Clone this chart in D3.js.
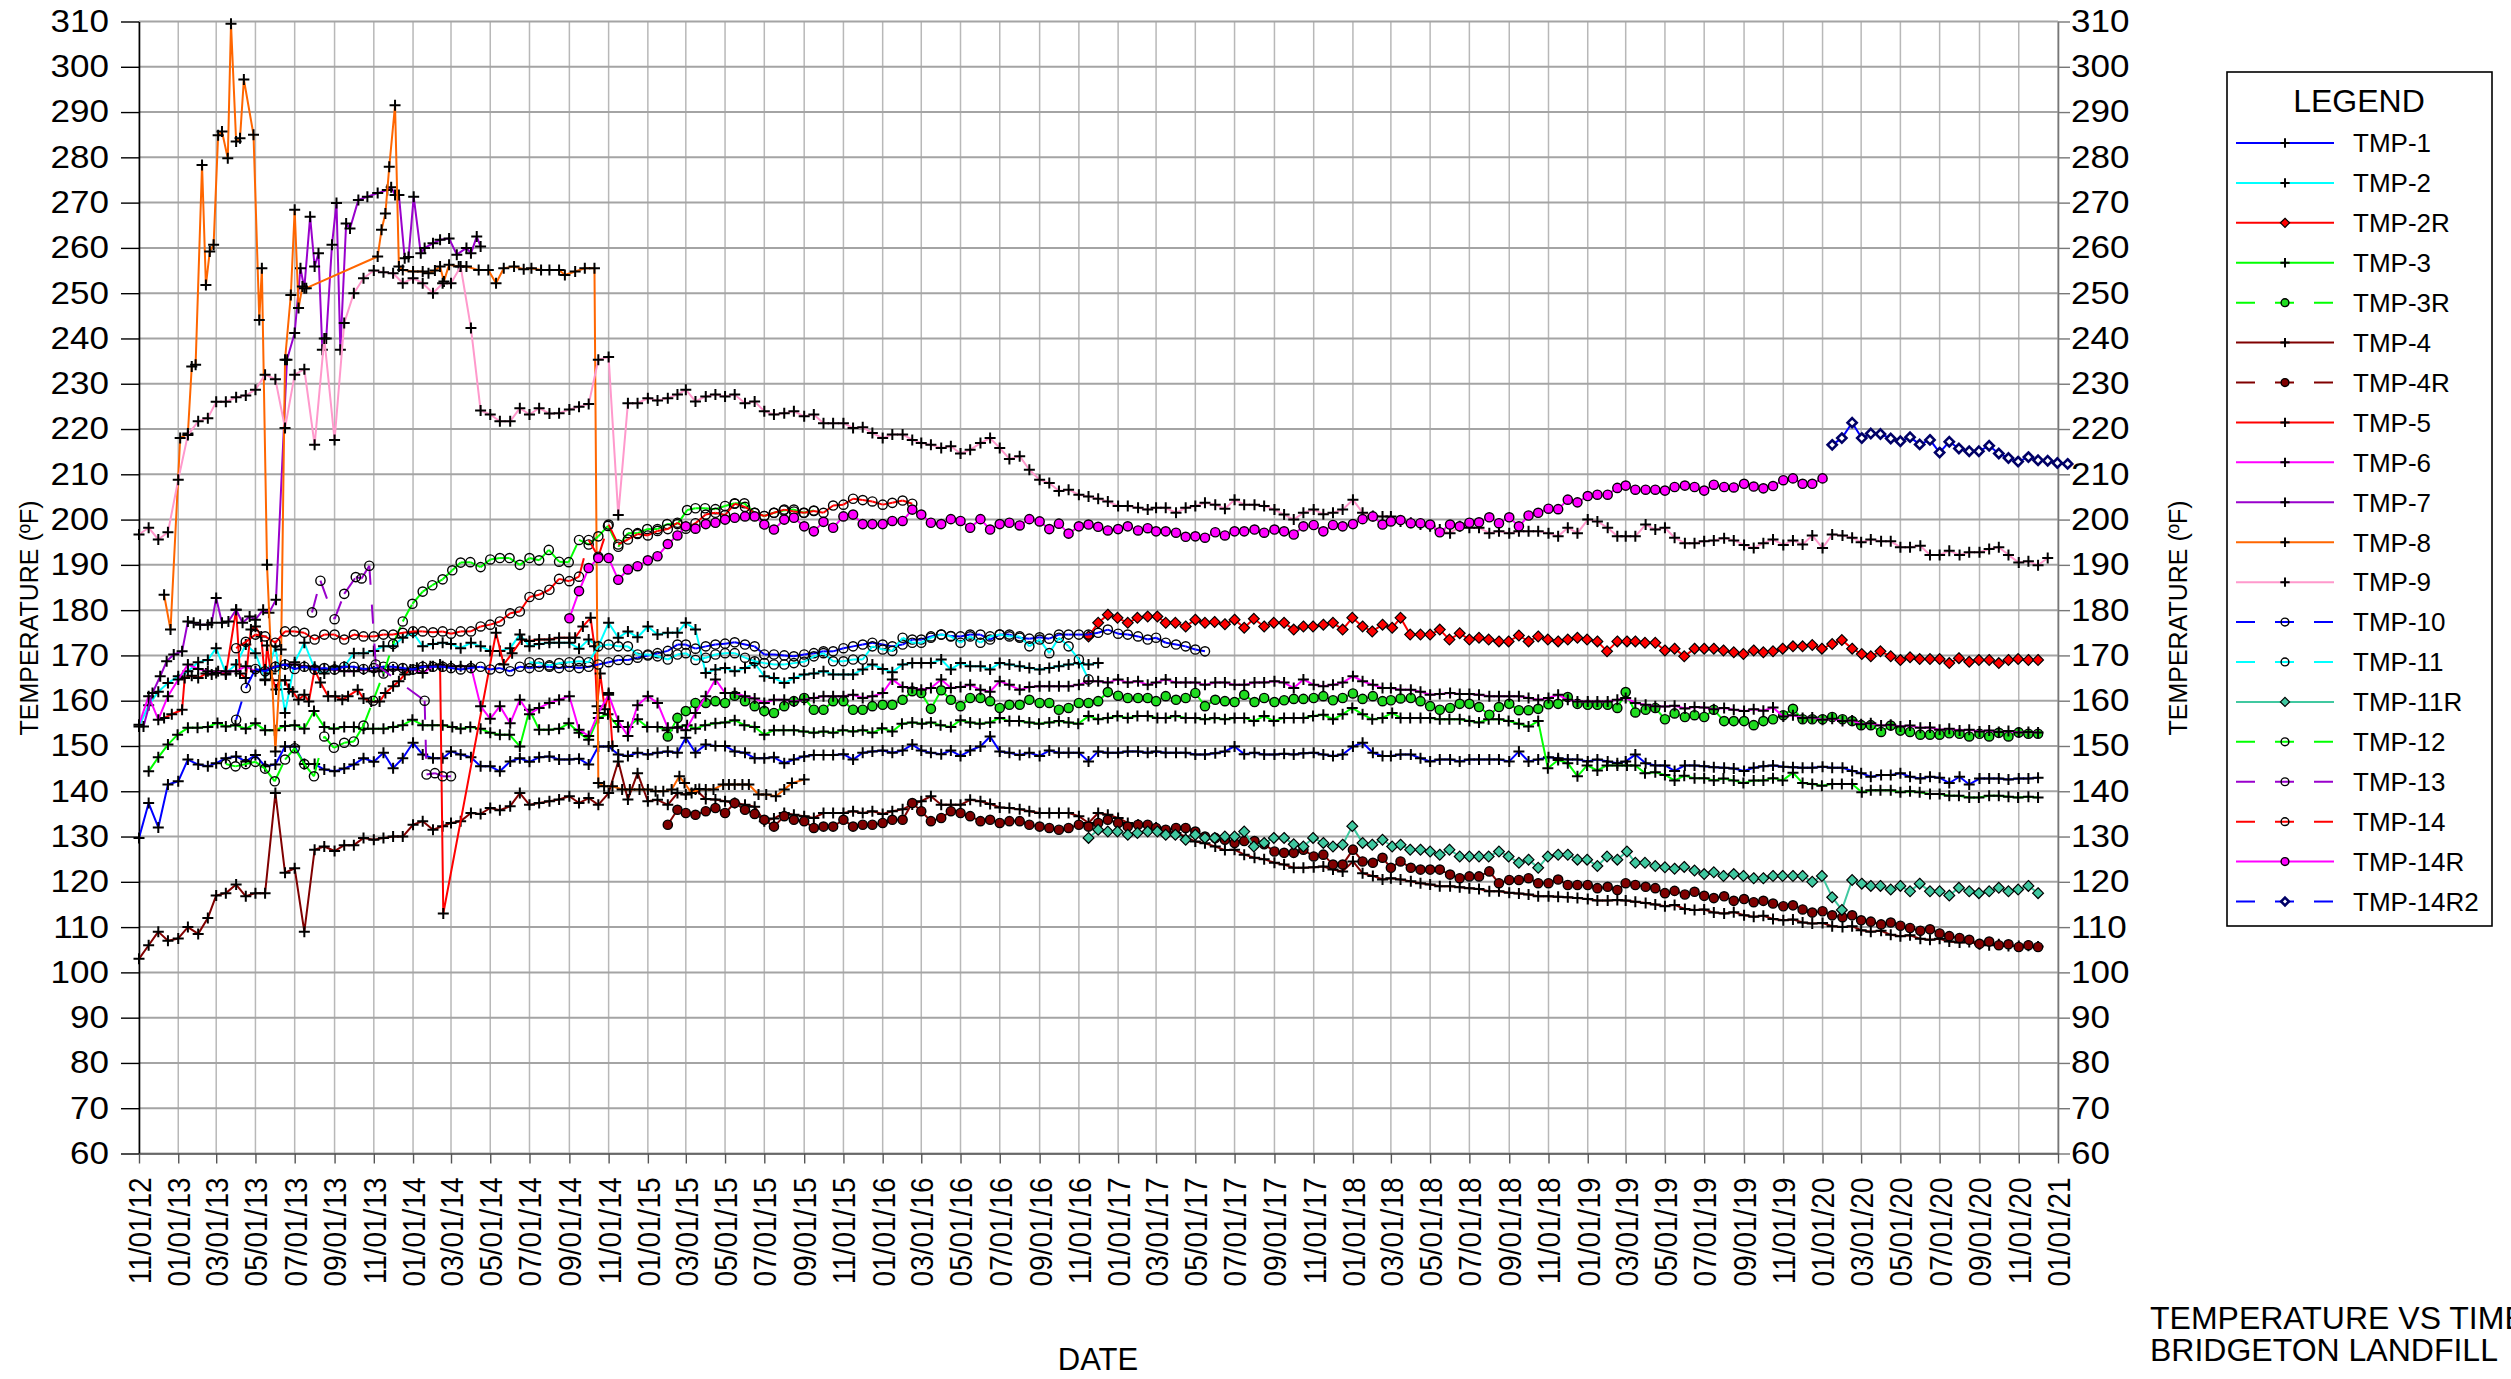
<!DOCTYPE html>
<html>
<head>
<meta charset="utf-8">
<script src="https://d3js.org/d3.v7.min.js"></script>
<style>
  body { margin: 0; background: #fff; }
  svg text { font-family: "Liberation Sans", Arial, sans-serif; fill: #000; }
</style>
</head>
<body>
<svg id="chart" width="2511" height="1379"></svg>
<script>
// ---- readings (deg F). "half-month" series: one value per half month from the start date
const tmp1Start = "2012-11-01";
const tmp1 = [129.7,137.4,132,141.5,142.2,147,145.9,145.5,146.2,147.3,147.7,146.6,148,145.5,145.9,149.9,149.9,146,146,144.8,144.4,145,145.9,147.3,146.5,148.5,145.1,147.3,150.7,148.1,147.3,147.3,148.8,148.1,147.5,145.5,145.5,144.4,146.6,147.3,146.5,147.5,147.7,147,147,147.2,145.9,149.9,149.9,148.1,147.8,148.5,148.1,148.5,148.8,148.5,151.8,148.5,150.3,150,150,148.8,148.5,147.3,147.3,147.5,146.2,147,147.7,148,148,148,148.2,147,148.5,148.8,149,148.5,149,150.3,149,148.5,148.2,149,147.8,149,149.9,152.1,148.8,148.5,148,148.5,147.8,149,148.5,148.5,148.5,146.6,148.8,148.5,148.5,148.8,148.8,148.5,148.8,148.5,148.5,148.5,148.1,148.1,148.4,148.8,149.9,148.2,148.5,148.1,148.1,148.3,148.1,148.4,148.5,148.1,147.8,148.1,149.9,150.7,148.5,147.8,147.8,148.1,148.1,147.3,146.6,147,147,146.6,147,147,147,147,146.6,148.8,146.6,147,147.5,147.3,147,147,146.6,147,146.6,146.2,146.6,148.1,146.2,145.7,145.7,144.5,145.7,145.7,145.5,145.3,145.2,145,144.5,145.2,145.5,145.7,145.4,145.3,145.2,145.2,145.4,145.2,145.2,144.5,144,143.2,143.6,143.6,144,143.2,142.8,143.2,143,141.8,143.2,141.5,142.8,142.8,142.8,142.6,142.8,142.8,143];

const tmp2Start = "2012-11-01";
const tmp2 = [154.3,159,162,163.9,165.4,166.5,168.5,169,171.6,166.1,168,172.4,170.5,164.7,172,157.3,168.5,172.8,167,166,167.5,167.5,170.5,170.5,171,172,172,173.9,175,172,172.5,172.8,172.5,171.6,172.8,172,171,171,171.6,174.6,172,172.5,172.8,172.8,172.8,171.5,173.5,172,177.2,173.9,175.3,174,176.4,174.6,175,175,177.2,175.7,166.1,166.9,167.2,166.5,167.2,168.3,165.4,165,163.9,165,165.8,166,166.5,165.8,165.8,165.8,166.9,168,167,166.3,168,168.3,168.3,168.3,169.1,166.9,168.3,167.6,167.6,166.9,168.3,168,167.6,167.2,166.9,167.2,167.6,168,168.3,168,168.3];

const tmp2RStart = "2016-11-16";
const tmp2R = [174.2,177.2,179,178.3,177.2,178.3,178.6,178.6,177.2,177.2,176.4,177.9,177.2,177.4,176.9,177.9,176.1,178.1,176.4,177.2,177.2,175.7,176.4,176.4,176.8,177.2,175.7,178.3,176.4,175.3,176.8,176.1,178.3,174.6,174.6,174.6,175.7,173.5,174.9,173.5,173.9,173.5,173.1,173.1,174.4,173.1,174.2,173.5,173.1,173.5,173.9,173.5,173.1,170.9,173.1,173.1,173.1,172.8,172.8,171.1,171.5,169.8,171.5,171.5,171.5,171.1,170.7,170.3,171.1,170.7,170.9,171.5,172,172,172.3,171.5,172.5,173.4,171.5,170.3,169.8,170.9,169.8,169,169.6,169.2,169.2,169.2,168.3,169.4,168.6,169,169,168.3,169,169.2,169,169];

const tmp3Start = "2012-11-16";
const tmp3 = [144.4,147.5,150.3,152.5,154,154,154.2,155.1,154.3,154.6,153.8,155,153.5,153.5,154.4,154.6,153.8,157.7,154.2,153.8,154.2,154.2,153.8,153.8,153.8,154.2,154.6,155.8,154.6,154.6,154.6,154.2,153.8,154.2,153.8,152.9,152.5,152.5,149.9,158,153.6,153.6,153.8,155,152.9,151.4,156.2,157,154.2,154.2,155.9,154.2,154.2,153.5,154.2,154.6,153.8,154.6,155,155.2,155.7,154.6,154.2,152.5,153.5,153.5,153.5,153.2,152.9,153.2,152.9,153.5,153.2,153.5,152.9,153.9,153.2,154.9,155.2,154.9,155.2,154.6,154.2,155.7,155.2,154.9,155.2,156.2,155.5,155.5,155.2,154.9,155.2,155.5,155.2,154.9,156.6,155.9,156.2,156.6,156.2,156.6,156.6,156.2,156.2,156.6,156.2,156.2,155.9,156.2,155.9,156.2,156.2,155.5,156.6,155.5,156.2,156.2,156.2,156.6,156.9,155.9,157,158.4,157,155.9,156.2,157.3,156.2,156.2,156.2,156.2,155.9,155.9,155.9,155.5,155.2,155.9,155.9,155.5,154.9,154.3,155.5,145.1,146.9,146.2,143.3,145.7,144.6,145.7,145.7,145.7,145.7,144,144.2,143.6,142.4,143.4,142.9,142.9,142.4,142.8,142.4,141.8,142.4,142.4,142.9,142.4,144.1,141.8,141.6,141.2,141.6,141.6,141.6,139.8,140.2,140.2,140.2,139.8,140,139.8,139.4,139.4,139,139,138.6,138.6,139,139,138.8,138.6,138.8,138.6];

const tmp3RStart = "2015-02-01";
const tmp3R = [152.1,156.2,157.7,159.5,159.5,159.9,159.5,161.1,159.9,158.8,157.7,157.3,158.8,159.9,160.6,158,158,159.9,159.9,158,158,158.8,159.1,159.1,160.2,162.1,161.7,158.2,162.3,160.2,158.8,160.6,160.6,159.9,158.4,159.1,159.1,160.2,159.5,159.5,158,158.4,159.5,159.5,159.9,161.9,161.1,160.6,160.6,160.6,159.9,161,160.2,160.6,161.7,158.8,160.2,159.9,159.7,161.3,159.7,160.6,159.7,160.1,160.4,160.4,160.6,161,160.1,160.6,161.6,160.4,161,159.9,160.1,160.5,160.6,159.9,158.8,158,158.4,159.3,159.3,158.6,156.9,158.6,159.3,157.9,157.9,158.2,159.2,159.3,160.8,159.3,159.1,159.1,159.1,158.4,161.9,157.4,158,158.4,155.9,157.2,156.4,156.8,156.4,158,155.5,155.5,155.5,154.6,155.5,155.9,156.8,158.2,155.9,155.9,155.9,156.4,155.9,155.5,154.6,154.6,153.1,154.5,153.4,153.1,152.5,152.5,152.5,152.8,152.7,152.1,152.7,152.1,152.9,152.1,153,152.7,152.7];

const tmp4Start = "2012-11-01";
const tmp4 = [103,106,109,107,107.5,110,108.5,112,117,117.5,119.4,116.8,117.5,117.5,139.6,122,123,109,127.1,127.8,126.8,128.1,128.1,129.7,129.3,129.7,130,130,132.6,133.4,131.5,132.3,133,133.4,135.2,135,136.3,135.8,136.7,139.6,137,137.4,137.8,138.2,138.9,137.4,138.5,137,139.6,146.6,138.2,144,137.8,138.1,137,139.6,139.3,140.4,138.3,138.2,137.8,137.4,137,136.6,133.4,134,135.2,134.8,134.5,134.1,135.2,135.2,135.2,135.6,135.2,135.6,135,135.6,136,137.1,137.8,138.9,137,137,137,138.1,137.8,137.2,136.4,136.3,136,135.6,135.2,135.2,135.2,135.2,134.5,133,135.2,134.8,134.1,133,132.6,132.3,132,131.3,130.8,130,128.9,128.5,127.8,127,127.1,126,125.3,125,124.2,123.8,123.1,123.1,123.2,123.4,122.7,122.3,124.5,121.9,121.3,120.5,120.8,120.5,120.1,119.7,119.4,119,119,118.8,118.6,118.4,117.9,117.9,117.6,117.4,117.2,116.8,116.8,116.7,116.6,116.4,116.2,115.9,115.9,116,115.9,115.6,115.3,115,114.6,114.9,114,113.8,113.9,113.2,113,113.3,112.6,112.3,112.5,111.8,111.5,111.7,111,110.8,110.9,110.2,110,110.2,109.3,109,109.2,108.3,108,108.2,107.4,107.2,107.4,106.8,106.6,106.7,106.2,106,106.2,105.8,105.8,105.9,105.7];

const tmp4RStart = "2015-02-01";
const tmp4R = [132.6,135.9,135.2,134.8,135.6,136.3,135.2,137.4,135.9,135,133.7,132.2,134.5,133.7,133.4,131.9,132.2,132.2,133.7,132.2,132.6,132.6,133,133.7,133.7,137.4,135.6,133.4,134.1,135.6,135.2,134.5,133.4,133.7,133,133.4,133.4,132.6,132.2,131.9,131.5,131.9,132.6,132.2,133,133.7,133,132.2,132.6,132.6,131.9,131.5,131.9,131.9,131.1,130,129.7,129.3,128.6,129,129,128.3,126.7,126.4,126.4,127.1,125.6,126,123.8,123.8,127.1,124.5,124.2,125.3,123.1,124.5,123.1,122.7,122.7,122.7,121.6,120.8,121.2,121.2,122.3,119.7,120.4,120.4,120.8,119.7,119.7,120.5,119.3,119.3,119.3,118.6,118.9,118.2,119.7,119.3,118.9,118.6,117.5,118,117.2,117.8,116.9,116.4,116.8,115.8,116.2,115.5,115.8,115.2,114.6,114.8,113.9,113.2,113.5,112.6,112.2,112.6,111.5,111.2,110.6,111,110.3,109.8,109.2,109.5,108.6,108,107.6,107.2,106.3,106.8,106,106.2,105.6,106,105.6];

// irregular readings: [date, value]
const tmp5 = [["2012-12-10",156.2],["2012-12-22",157],["2013-01-07",158],["2013-01-11",165],["2013-01-22",165.5],["2013-02-01",165],["2013-02-13",166],["2013-02-22",165.8],["2013-03-04",166.5],["2013-03-16",165.8],["2013-04-01",180.1],["2013-04-07",166],["2013-04-16",165],["2013-04-24",175.7],["2013-05-01",176.4],["2013-05-10",174.2],["2013-05-16",164.5],["2013-05-19",172.2],["2013-05-25",166],["2013-06-02",162.5],["2013-06-07",164.5],["2013-06-16",164.5],["2013-06-22",162.6],["2013-06-28",162],["2013-07-07",160.2],["2013-07-16",161.3],["2013-07-23",159.8],["2013-08-01",166.9],["2013-08-10",164],["2013-08-22",161],["2013-09-02",161],["2013-09-13",160.2],["2013-09-22",161],["2013-10-07",162.4],["2013-10-16",160.5],["2013-10-28",159.8],["2013-11-10",159.8],["2013-11-19",161.7],["2013-12-01",163.2],["2013-12-10",164.3],["2013-12-19",165.8],["2013-12-28",166.9],["2014-01-07",167.3],["2014-01-16",167.6],["2014-01-28",167.6],["2014-02-12",168],["2014-02-17",113],["2014-05-10",175],["2014-05-22",168],["2014-06-04",170.5],["2014-06-19",173.5],["2014-07-01",173.2],["2014-07-16",173.5],["2014-08-01",173.5],["2014-08-16",173.9],["2014-09-01",173.9],["2014-09-10",173.9],["2014-09-22",176.4],["2014-10-04",178.3],["2014-10-10",172],["2014-10-14",158.8],["2014-10-19",166],["2014-10-26",158.1],["2014-11-01",161.7],["2014-11-07",150]];

const tmp6Start = "2012-11-01";
const tmp6 = [154.7,161,155.8,161,164.7,168,167,166.5,166.1,166.5,166.5,167.6,166.5,166.9,167.5,168,168,167.6,167.5,166.9,166.9,166.5,166.5,166.9,166.5,166.5,166.9,166.9,166.9,166.1,167.6,167.6,167.6,167.6,167.6,158.8,156,158.8,155,160.2,157,158.4,159.5,160.2,161,153.6,152.2,157.3,161.3,155.5,152.2,159,161,159.5,154,154,153.5,157.3,161,164.7,161.7,161.7,161,160.5,159.5,160.2,160.2,159.8,160.2,160.6,161,161,161,161.3,160.6,161,161.7,164.7,163,162.8,162.4,162.8,164.7,162.8,163,163.5,162.4,162,164.3,163.5,162.4,163,163.2,163.2,163.2,163.2,163.5,164.3,164.3,164,164.7,164,164.3,163.5,164,164.7,164,164,164,163.5,164,164,163.5,163.5,164,164,164.3,164,162.8,164.7,163.5,163.2,163.5,164,165.4,164.3,163.5,162.8,162.8,162.4,162.4,162,161.3,161.5,161.7,161.5,161.5,161.3,161,161,161,161,160.6,160.2,160.6,161.3,160.2,159.8,159.8,159.8,159.8,160.2,160.6,159.5,159.1,158.8,158.7,158.9,158.3,158.6,158.5,158.1,158.4,158,157.7,158.1,157.8,158.5,156.5,156.8,156.2,156.3,155.8,156,155.5,155.6,154.8,155,154.5,154.7,154.3,154.5,154,154.1,153.6,153.8,153.4,153.6,153.2,153.4,153.1,153.3,153,153.1,153];

const tmp7 = [["2012-11-08",154.3],["2012-11-22",161.7],["2012-12-04",165.4],["2012-12-14",168.7],["2012-12-25",170.2],["2013-01-07",170.9],["2013-01-16",177.5],["2013-01-25",177.2],["2013-02-04",176.8],["2013-02-16",176.8],["2013-02-22",177.2],["2013-03-01",182.7],["2013-03-10",177.2],["2013-03-20",177.5],["2013-04-01",180.1],["2013-04-11",177.2],["2013-04-22",178.6],["2013-05-01",177.9],["2013-05-13",180.1],["2013-05-22",179.4],["2013-06-02",182.3],["2013-06-19",235.3],["2013-07-01",241.2],["2013-07-10",255.5],["2013-07-16",251.1],["2013-07-25",266.9],["2013-08-01",255.9],["2013-08-07",258.8],["2013-08-13",237.5],["2013-08-19",240],["2013-08-28",260.7],["2013-09-04",269.9],["2013-09-10",237.5],["2013-09-19",265.4],["2013-09-25",264.3],["2013-10-08",270.6],["2013-10-22",271.3],["2013-11-07",272.1],["2013-11-22",272.8],["2013-11-28",273.4],["2013-12-04",271.7],["2013-12-10",271.7],["2013-12-19",257.7],["2013-12-25",258],["2014-01-02",271.3],["2014-01-13",258.8],["2014-01-19",260],["2014-02-01",261],["2014-02-12",261.8],["2014-02-26",262.1],["2014-03-10",258.5],["2014-03-25",260],["2014-04-01",258.8],["2014-04-10",262.5],["2014-04-16",260.3]];

const tmp8 = [["2012-12-10",183.4],["2012-12-20",175.7],["2013-01-04",218],["2013-01-16",219],["2013-01-22",233.8],["2013-01-28",234.2],["2013-02-07",278.3],["2013-02-13",251.8],["2013-02-19",259.2],["2013-02-25",260.7],["2013-03-04",284.9],["2013-03-10",285.7],["2013-03-19",279.8],["2013-03-24",309.5],["2013-04-01",283.5],["2013-04-07",284.2],["2013-04-13",297.2],["2013-04-28",285],["2013-05-07",244.1],["2013-05-11",255.5],["2013-05-19",190],["2013-06-01",148.8],["2013-06-10",171.3],["2013-06-16",235.3],["2013-06-25",249.6],["2013-07-01",268.4],["2013-07-07",246.7],["2013-07-13",251.5],["2013-07-19",251.1],["2013-11-07",258.1],["2013-11-13",264],["2013-11-19",267.6],["2013-11-25",277.9],["2013-12-04",291.5],["2013-12-10",255.9],["2013-12-16",255.1],["2014-01-01",254.8],["2014-01-16",254.8],["2014-01-25",254.4],["2014-02-04",255],["2014-02-12",255.9],["2014-02-18",252.6],["2014-02-26",256.3],["2014-03-13",255.9],["2014-03-25",255.9],["2014-04-13",255.1],["2014-04-28",255.1],["2014-05-10",252.2],["2014-05-22",255.5],["2014-06-07",255.9],["2014-06-22",255.3],["2014-07-04",255.5],["2014-07-19",255.1],["2014-08-01",255.1],["2014-08-16",255.1],["2014-08-25",254],["2014-09-10",254.8],["2014-09-25",255.5],["2014-10-10",255.5],["2014-10-16",141.8],["2014-10-25",141.1],["2014-11-07",141.1],["2014-11-22",140.4],["2014-12-04",140.4],["2014-12-19",140.4],["2015-01-01",140.4],["2015-01-13",140],["2015-01-25",140],["2015-02-07",140.4],["2015-02-19",143.3],["2015-02-27",141.8],["2015-03-10",139.6],["2015-03-22",140.5],["2015-04-01",140.4],["2015-04-13",140.4],["2015-04-28",141.5],["2015-05-07",141.5],["2015-05-16",141.5],["2015-05-28",141.5],["2015-06-07",141.5],["2015-06-22",139.3],["2015-07-04",139.3],["2015-07-19",138.9],["2015-08-01",140.4],["2015-08-13",141.8],["2015-09-01",142.6]];

const tmp9Start = "2012-11-01";
const tmp9 = [196.7,198.2,195.6,197.2,208.8,218.7,221.7,222.4,226,226,227,227.4,228.7,232,231,220.2,232,233.2,216.5,240,217.6,243.4,250,253.3,255,254.6,254.4,252.2,253.3,252.2,250,252.2,252.2,255.9,242.3,224.1,223.2,221.7,221.7,224.6,223.2,224.6,223.4,223.5,224.3,224.9,225.5,235.3,235.9,201,225.7,225.7,226.8,226.3,226.8,227.6,228.7,226.1,227.2,227.6,227.2,227.6,225.7,226.1,223.9,223.2,223.5,223.9,222.8,223.2,221.3,221.3,221.3,220.2,220.4,219.1,218,218.8,218.8,217.6,216.9,216.5,215.8,216.2,214.6,215.4,216.9,218,215.8,213.4,214,211,208.8,208.1,206.3,206.6,205.5,205.1,204.6,204,203,203,202.6,202.2,202.6,202.6,201.5,202.6,203,203.7,203.3,202.4,204.4,203.3,203.3,203,202.2,201.1,200,201.5,202.2,201.2,201.5,202.2,204.4,201.5,200.8,200.7,200.7,199.6,199.3,198.9,198.5,197.8,197,198.5,198.2,198.2,197,197.4,197,197.4,197.4,197.4,197,196.3,198.2,197,200,199.6,198.2,196.3,196.3,196.3,198.9,197.8,198.2,196,194.8,194.8,195.2,195.4,195.9,195.4,194.4,193.7,194.8,195.6,194.4,195.4,194.5,196.5,193.7,196.7,196.5,196,195,195.6,195.2,195.2,193.9,193.9,194.2,192.2,192.2,193.1,192.2,192.8,192.8,193.5,193.9,192.2,190.5,190.8,189.9,191.5];

const tmp10Start = "2013-04-01";
const tmp10 = [155.8,162.8,167,166.5,167.5,168,167,167.5,166.9,167.2,166.9,167.5,167.5,167,167.2,167.5,167.5,167.2,166.9,167.5,167.5,167.5,167.2,166.9,167.2,167.5,166.9,167.2,166.5,167.5,167.2,167.5,167.5,167.2,167.5,167.2,167.5,168,168.5,169,169,169.5,170,170.5,171,172.4,172.4,171.5,172,172.4,172.6,172.9,172.4,172,170.2,170.2,170,169.8,170.2,170.5,170.9,170.9,171.6,172,172.4,172.8,172.4,172,172.4,173.5,173.5,174.2,174.6,174.3,174.2,174.6,174.6,173.5,174.6,174.6,173.9,173.7,174,173.7,174.6,174.6,174.6,174.6,175,175.7,174.8,174.6,174.2,173.5,173.9,172.8,172.4,172,171.3,170.9];

const tmp11Start = "2014-07-01";
const tmp11 = [168.5,168.3,167.8,168.3,168.5,168.7,168.5,172,172.4,172,172,170.2,170.2,169.8,169.1,170.2,170.5,169,169.5,170.2,170.5,170.5,169.5,168.7,168.3,168,168,168.3,168.6,169.8,170.5,168.7,168.7,169.1,169.1,172,171.3,171,173.9,172.8,172.8,173.9,174.6,174.2,172.8,174.2,172.8,174.2,174.6,174.2,174.2,172,173.5,170.5,173.9,172,169.1,164.7];

const tmp11RStart = "2016-11-16";
const tmp11R = [129.7,131.5,131.1,131.1,130.4,130.8,131.1,131.1,130.4,130.4,129.3,130.4,129.7,129.7,130,130,131.1,127.8,128.6,129.7,129.7,128.3,127.8,129.7,128.6,127.8,128.2,132.3,128.6,128.2,129.3,127.8,128.2,127.1,127.1,126.7,126,127.1,125.6,125.6,125.6,125.6,126.7,125.6,124.2,124.9,123.1,125.6,126,126,124.9,124.9,123.5,125.6,124.9,126.7,124.2,124.2,123.5,123.2,122.9,123.3,122.5,121.7,122.1,121.3,121.7,121.3,120.8,120.8,121.3,121.3,121.3,121.3,120,121.3,116.6,113.8,120.4,119.6,119.1,119.1,118.3,119.1,117.9,119.6,117.9,117.9,117,118.7,117.9,117.5,117.9,118.7,117.9,118.3,119.1,117.5];

const tmp12Start = "2013-03-16";
const tmp12 = [146,145.5,146,146.5,145,142.2,147,149.5,146,143.3,152.1,149.6,150.7,151,154.5,160,166,172.5,177.5,181.4,184.1,185.5,186.8,188.8,190.5,190.6,189.5,191.2,191.5,191.5,190,191.5,191,193.3,190.7,190.6,195.5,194.5,196.3,198.6,194,197,197,197.9,197.9,199,199,202.1,202.5,202.5,202.3,203,203.6,203.6,201.5,200.8,201.5,202,202.2,201.5,202];

const tmp13 = [["2013-07-28",179.5],["2013-08-10",186.5],["2013-09-01",178],["2013-09-16",183.6],["2013-10-04",187.3],["2013-10-13",187],["2013-10-25",189.8],["2013-11-04",168],["2014-01-19",160],["2014-01-22",143.7],["2014-02-04",144],["2014-02-16",143.3],["2014-03-01",143.3]];

const tmp14Start = "2013-04-01";
const tmp14 = [171.6,173,174.6,174.2,172.8,175.3,175.3,175,173.5,174.6,174.6,173.5,174.6,174.2,174.2,174.6,174.6,175,175.3,175.3,175.1,175.3,174.8,175.3,175.3,176.4,176.8,177.5,179.3,179.7,182.9,183.4,184.5,186.9,186.4,187.4,195.5,191.8,198.9,194.5,195.6,196.8,196.5,197.5,197.9,199.3,198,199.2,201.1,201.5,201,203.5,202.8,201.5,200.8,201.5,202.2,201.8,201.5,201.9,201.5,203.1,203.3,204.6,204.3,204,203.3,203.7,204.2,203.5];

const tmp14RStart = "2014-09-01";
const tmp14R = [178.2,184.2,189.3,191.5,191.5,186.7,189,189.7,191,191.9,194.6,196.5,198.5,198,199,199.3,200,200.4,200.7,200.7,198.9,197.8,200,200.4,198.5,197.4,199.5,198.2,200.7,201.1,199,199,199,199.7,199.7,202.2,201.1,199.3,199,200.1,199.7,198.2,200.1,197.8,199,199.3,198.7,200.1,199.6,197.9,199.1,196.9,198.5,198.9,198.4,197.6,197.9,198.5,197.6,198.1,197.4,197.4,197.1,196.2,196.3,196,197.2,196.5,197.4,197.4,197.8,197.1,197.8,197.4,196.7,198.5,198.8,197.4,198.8,198.5,199,200.1,200.7,198.9,199.6,199.9,199.2,199.2,198.9,197.2,198.9,198.5,199.3,199.4,200.5,199.2,200.5,198.5,200.9,201.5,202.4,202.3,204.4,203.8,205.2,205.5,205.5,207,207.5,206.6,206.6,206.6,206.4,207.2,207.5,207.2,206.4,207.7,207.2,207.1,207.9,207.3,206.9,207.4,208.7,209.1,207.9,207.9,209.1];

const tmp14R2Start = "2020-01-16";
const tmp14R2 = [216.5,218,221.4,218,219,218.9,217.9,217.3,218.2,216.6,217.6,214.8,217.2,215.7,215.1,215.1,216.3,214.6,213.6,212.8,213.8,213.1,213,212.5,212.3];

const yTickValues = d3.range(60, 311, 10);
const dateDomain = ["2012-11-01", "2021-01-01"];

// ---- helpers
const parse = d3.timeParse("%Y-%m-%d");
function halfMonthly(start, vals) {
  const s = parse(start);
  return vals.map((v, i) => {
    const d = d3.timeMonth.offset(s, Math.floor(i / 2));
    if (i % 2) d.setDate(d.getDate() + 15);
    return { date: d, value: v };
  });
}
function dated(pts) { return pts.map(([d, v]) => ({ date: parse(d), value: v })); }

const series = [
  { name: "TMP-1",    color: "#0000ff", dash: false, marker: "plus",    data: halfMonthly(tmp1Start, tmp1) },
  { name: "TMP-2",    color: "#00ffff", dash: false, marker: "plus",    data: halfMonthly(tmp2Start, tmp2) },
  { name: "TMP-2R",   color: "#ff0000", dash: false, marker: "diamond", fill: "#ff0000", data: halfMonthly(tmp2RStart, tmp2R) },
  { name: "TMP-3",    color: "#00ff00", dash: false, marker: "plus",    data: halfMonthly(tmp3Start, tmp3) },
  { name: "TMP-3R",   color: "#00ff00", dash: true,  marker: "circle",  fill: "#1fdc1f", data: halfMonthly(tmp3RStart, tmp3R) },
  { name: "TMP-4",    color: "#800000", dash: false, marker: "plus",    data: halfMonthly(tmp4Start, tmp4) },
  { name: "TMP-4R",   color: "#800000", dash: true,  marker: "circle",  fill: "#800000", data: halfMonthly(tmp4RStart, tmp4R) },
  { name: "TMP-5",    color: "#ff0000", dash: false, marker: "plus",    data: dated(tmp5) },
  { name: "TMP-6",    color: "#ff00ff", dash: false, marker: "plus",    data: halfMonthly(tmp6Start, tmp6) },
  { name: "TMP-7",    color: "#9900cc", dash: false, marker: "plus",    data: dated(tmp7) },
  { name: "TMP-8",    color: "#ff6600", dash: false, marker: "plus",    data: dated(tmp8) },
  { name: "TMP-9",    color: "#ff99cc", dash: false, marker: "plus",    data: halfMonthly(tmp9Start, tmp9) },
  { name: "TMP-10",   color: "#0000ff", dash: true,  marker: "circle",  fill: "none", data: halfMonthly(tmp10Start, tmp10) },
  { name: "TMP-11",   color: "#00ffff", dash: true,  marker: "circle",  fill: "none", data: halfMonthly(tmp11Start, tmp11) },
  { name: "TMP-11R",  color: "#40c8a0", dash: false, marker: "diamond", fill: "#40c8a0", data: halfMonthly(tmp11RStart, tmp11R) },
  { name: "TMP-12",   color: "#00ff00", dash: true,  marker: "circle",  fill: "none", data: halfMonthly(tmp12Start, tmp12) },
  { name: "TMP-13",   color: "#9900cc", dash: true,  marker: "circle",  fill: "none", data: dated(tmp13) },
  { name: "TMP-14",   color: "#ff0000", dash: true,  marker: "circle",  fill: "none", data: halfMonthly(tmp14Start, tmp14) },
  { name: "TMP-14R",  color: "#ff00ff", dash: false, marker: "circle",  fill: "#ff00ff", data: halfMonthly(tmp14RStart, tmp14R) },
  { name: "TMP-14R2", color: "#0000ff", dash: true,  marker: "hdiamond", fill: "#ffffff", data: halfMonthly(tmp14R2Start, tmp14R2) }
];

// ---- layout
const svg = d3.select("#chart");
const plot = { left: 139, right: 2058, top: 21.5, bottom: 1153.5 };
const labelStretch = 1.13; // tick labels in the original are drawn a little wide

const x = d3.scaleTime().domain(dateDomain.map(parse)).range([plot.left, plot.right]);
const y = d3.scaleLinear().domain([60, 310]).range([plot.bottom, plot.top]);
const xTicks = x.ticks(d3.timeMonth.every(2));

// gridlines
svg.append("g").selectAll("line").data(xTicks).join("line")
  .attr("x1", d => x(d)).attr("x2", d => x(d))
  .attr("y1", plot.top).attr("y2", plot.bottom)
  .attr("stroke", "#b8b8b8").attr("stroke-width", 1.5);
svg.append("g").selectAll("line").data(yTickValues).join("line")
  .attr("x1", plot.left).attr("x2", plot.right)
  .attr("y1", d => y(d)).attr("y2", d => y(d))
  .attr("stroke", "#a4a4a4").attr("stroke-width", 2);

// axes
function styleAxis(g, color) {
  g.attr("font-family", null).attr("font-size", null);
  g.select(".domain").attr("stroke", color).attr("stroke-width", 1.6);
  g.selectAll(".tick line").attr("stroke", color).attr("stroke-width", 1.4);
}
svg.append("g").attr("transform", `translate(${plot.left},0)`)
  .call(d3.axisLeft(y).tickValues(yTickValues).tickSize(18).tickSizeOuter(0).tickPadding(12))
  .call(g => styleAxis(g, "#000"))
  .call(g => g.selectAll("text").attr("font-size", 31)
    .attr("transform", `scale(${labelStretch},1)`).attr("x", -30 / labelStretch));
svg.append("g").attr("transform", `translate(${plot.right},0)`)
  .call(d3.axisRight(y).tickValues(yTickValues).tickSize(12).tickSizeOuter(0).tickPadding(1))
  .call(g => styleAxis(g, "#777"))
  .call(g => g.selectAll("text").attr("font-size", 31)
    .attr("transform", `scale(${labelStretch},1)`).attr("x", 13 / labelStretch));
svg.append("g").attr("transform", `translate(0,${plot.bottom})`)
  .call(d3.axisBottom(x).tickValues(xTicks).tickFormat(d3.timeFormat("%m/%d/%y")).tickSize(10).tickSizeOuter(0))
  .call(g => styleAxis(g, "#555"))
  .call(g => g.selectAll("text")
    .attr("font-size", 28)
    .attr("transform", `scale(${labelStretch},1) rotate(-90)`)
    .attr("text-anchor", "end")
    .attr("x", -24).attr("y", 0).attr("dy", "0.36em"));

// axis titles
svg.append("text").attr("transform", "translate(38,618) rotate(-90)")
  .attr("text-anchor", "middle").attr("font-size", 25).text("TEMPERATURE (ºF)");
svg.append("text").attr("transform", "translate(2187,618) rotate(-90)")
  .attr("text-anchor", "middle").attr("font-size", 25).text("TEMPERATURE (ºF)");
svg.append("text").attr("x", 1098).attr("y", 1370)
  .attr("text-anchor", "middle").attr("font-size", 31).text("DATE");
svg.append("text").attr("x", 2150).attr("y", 1329).attr("font-size", 32).text("TEMPERATURE VS TIME");
svg.append("text").attr("x", 2150).attr("y", 1361).attr("font-size", 32).text("BRIDGETON LANDFILL");

// ---- series
const line = d3.line().x(d => x(d.date)).y(d => y(d.value));
const dashPattern = "19,20";

function drawMarker(sel, s, scale) {
  const k = scale || 1;
  if (s.marker === "plus") {
    sel.append("path").attr("d", `M${-5.5*k},0H${5.5*k}M0,${-5.5*k}V${5.5*k}`)
      .attr("stroke", "#000").attr("stroke-width", 2).attr("fill", "none");
  } else if (s.marker === "circle") {
    sel.append("circle").attr("r", 4.6 * k)
      .attr("fill", s.fill).attr("stroke", "#000").attr("stroke-width", 1.4);
  } else if (s.marker === "diamond") {
    const r = 5.4 * k;
    sel.append("path").attr("d", `M0,${-r}L${r},0L0,${r}L${-r},0Z`)
      .attr("fill", s.fill).attr("stroke", "#000").attr("stroke-width", 1.2);
  } else if (s.marker === "hdiamond") {
    const r = 4.6 * k;
    sel.append("path").attr("d", `M0,${-r}L${r},0L0,${r}L${-r},0Z`)
      .attr("fill", s.fill).attr("stroke", "#000066").attr("stroke-width", 2.6);
  }
}

const layer = svg.append("g");
series.forEach(s => {
  const g = layer.append("g");
  if (s.dash) {
    // dash pattern restarts on every segment
    g.selectAll("path.seg").data(d3.pairs(s.data)).join("path").attr("class", "seg")
      .attr("d", p => line(p)).attr("fill", "none")
      .attr("stroke", s.color).attr("stroke-width", 2).attr("stroke-dasharray", dashPattern);
  } else {
    g.append("path").datum(s.data).attr("d", line).attr("fill", "none")
      .attr("stroke", s.color).attr("stroke-width", 2).attr("stroke-linejoin", "round");
  }
  g.selectAll("g.m").data(s.data).join("g").attr("class", "m")
    .attr("transform", d => `translate(${x(d.date)},${y(d.value)})`)
    .each(function () { drawMarker(d3.select(this), s); });
});

// ---- legend
const lg = svg.append("g");
lg.append("rect").attr("x", 2227).attr("y", 72).attr("width", 265).attr("height", 854)
  .attr("fill", "#fff").attr("stroke", "#000").attr("stroke-width", 1.6);
lg.append("text").attr("x", 2359).attr("y", 100).attr("dy", "0.36em")
  .attr("text-anchor", "middle").attr("font-size", 32).text("LEGEND");
const rowY = d3.scalePoint().domain(series.map(s => s.name)).range([143, 901.5]);
series.forEach(s => {
  const yy = rowY(s.name);
  lg.append("line").attr("x1", 2236).attr("x2", 2334).attr("y1", yy).attr("y2", yy)
    .attr("stroke", s.color).attr("stroke-width", 2)
    .attr("stroke-dasharray", s.dash ? dashPattern : null);
  drawMarker(lg.append("g").attr("transform", `translate(2285,${yy})`), s, 0.85);
  lg.append("text").attr("x", 2353).attr("y", yy).attr("dy", "0.36em")
    .attr("font-size", 26).text(s.name);
});
</script>
</body>
</html>
